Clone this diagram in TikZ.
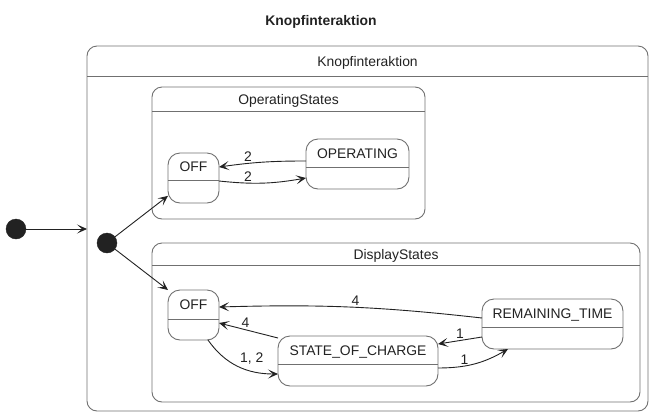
\documentclass[tikz,border=0pt]{standalone}
\usepackage{fontspec}
\setmainfont{Liberation Sans}
\usetikzlibrary{arrows.meta,calc}
\definecolor{boxgray}{HTML}{707070}
\definecolor{inkdark}{HTML}{222222}
\begin{document}
\begin{tikzpicture}[x=1pt,y=1pt,
  box/.style={draw=boxgray,line width=0.9pt,rounded corners=10pt,inner sep=0pt,outer sep=0pt},
  statebox/.style={draw=boxgray,line width=0.9pt,rounded corners=12pt,inner sep=0pt,outer sep=0pt},
  divider/.style={draw=boxgray,line width=0.9pt},
  txt/.style={font=\fontsize{13.9}{16}\selectfont,text=inkdark,inner sep=0pt,text height=10pt,text depth=0pt},
  lbl/.style={font=\fontsize{13.9}{16}\selectfont,text=inkdark,inner sep=1.5pt},
  tr/.style={draw=inkdark,line width=0.9pt,-{Stealth[length=10pt,width=9pt,inset=5pt]}},
  initdot/.style={circle,fill=inkdark,draw=inkdark,minimum size=20pt,inner sep=0pt}
]
\useasboundingbox (0,0) rectangle (654,-416);
% title
\node[txt,font=\fontsize{13.9}{16}\selectfont\bfseries] (title) at (321,-20) {Knopfinteraktion};
% containers
\node[box,minimum width=561pt,minimum height=365pt] (outer) at (367.5,-228.5) {};
\draw[divider] ([yshift=-30pt]outer.north west) -- ([yshift=-30pt]outer.north east);
\node[txt] (outert) at ([yshift=-15pt]outer.north) {Knopfinteraktion};

\node[box,minimum width=273pt,minimum height=132pt] (opst) at (288.5,-153) {};
\draw[divider] ([yshift=-24pt]opst.north west) -- ([yshift=-24pt]opst.north east);
\node[txt] (opstt) at ([yshift=-12pt]opst.north) {OperatingStates};

\node[box,minimum width=488pt,minimum height=159pt] (disp) at (396,-322.5) {};
\draw[divider] ([yshift=-22pt]disp.north west) -- ([yshift=-22pt]disp.north east);
\node[txt] (dispt) at ([yshift=-11pt]disp.north) {DisplayStates};

% states
\node[statebox,minimum width=51pt,minimum height=50pt] (opoff) at (193.5,-178) {};
\draw[divider] ([yshift=-27pt]opoff.north west) -- ([yshift=-27pt]opoff.north east);
\node[txt] at ([yshift=-13.5pt]opoff.north) {OFF};

\node[statebox,minimum width=103pt,minimum height=50pt] (operating) at (357.5,-164) {};
\draw[divider] ([yshift=-28pt]operating.north west) -- ([yshift=-28pt]operating.north east);
\node[txt] at ([yshift=-14pt]operating.north) {OPERATING};

\node[statebox,minimum width=51pt,minimum height=50pt] (doff) at (193.5,-315) {};
\draw[divider] ([yshift=-29pt]doff.north west) -- ([yshift=-29pt]doff.north east);
\node[txt] at ([yshift=-14pt]doff.north) {OFF};

\node[statebox,minimum width=160pt,minimum height=50pt] (soc) at (358,-361) {};
\draw[divider] ([yshift=-28pt]soc.north west) -- ([yshift=-28pt]soc.north east);
\node[txt] at ([yshift=-14pt]soc.north) {STATE\_OF\_CHARGE};

\node[statebox,minimum width=141pt,minimum height=50pt] (rt) at (552.5,-324) {};
\draw[divider] ([yshift=-28pt]rt.north west) -- ([yshift=-28pt]rt.north east);
\node[txt] at ([yshift=-14pt]rt.north) {REMAINING\_TIME};

% initial states
\node[initdot] (i1) at (16,-229) {};
\node[initdot] (i2) at (107,-243) {};

% transitions
\draw[tr] (i1) -- (i1 -| outer.west);
\draw[tr] (i2) -- (opoff.215);
\draw[tr] (i2) -- (doff.north west);

\draw[tr] ([yshift=3pt]operating.west) to[bend right=4] node[lbl,above,pos=0.68] {2} ([yshift=11pt]opoff.east);
\draw[tr] ([yshift=-3pt]opoff.east) to[bend right=8] node[lbl,above,pos=0.32] {2} ([yshift=-14pt]operating.west);

\draw[tr] ([yshift=6pt]rt.west) to[bend right=4] node[lbl,above,pos=0.48] {4} ([yshift=8pt]doff.east);
\draw[tr] ([yshift=-2pt]soc.north west) -- node[lbl,above,pos=0.55] {4} ([yshift=-8pt]doff.east);
\draw[tr] ([yshift=-13pt]rt.west) -- node[lbl,above] {1} ([yshift=17pt]soc.east);
\draw[tr] ([yshift=-7pt]soc.east) to[bend right=15] node[lbl,above,pos=0.35] {1} ([xshift=26pt]rt.south west);
\draw[tr] ([xshift=-11pt]doff.south east) to[out=-55,in=180] node[lbl,above right,pos=0.5] {1, 2} ([yshift=-13pt]soc.west);
\end{tikzpicture}
\end{document}
